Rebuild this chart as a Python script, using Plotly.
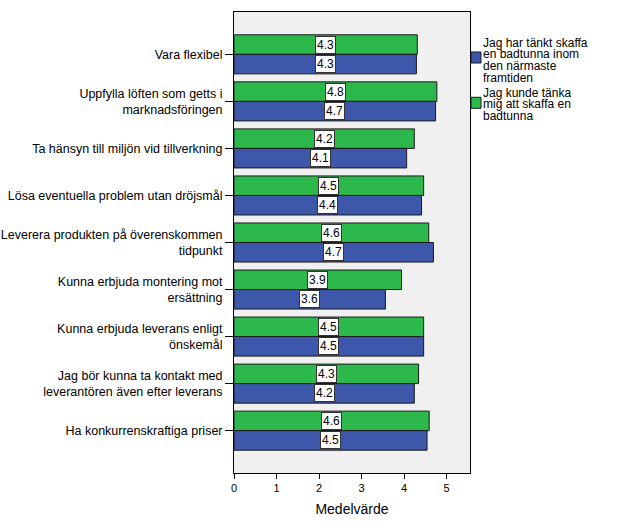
import plotly.graph_objects as go

categories = [
    "Vara flexibel",
    "Uppfylla löften som getts i<br>marknadsföringen",
    "Ta hänsyn till miljön vid tillverkning",
    "Lösa eventuella problem utan dröjsmål",
    "Leverera produkten på överenskommen<br>tidpunkt",
    "Kunna erbjuda montering mot<br>ersättning",
    "Kunna erbjuda leverans enligt<br>önskemål",
    "Jag bör kunna ta kontakt med<br>leverantören även efter leverans",
    "Ha konkurrenskraftiga priser",
]
series_blue_lines = ["Jag har tänkt skaffa", "en badtunna inom", "den närmaste", "framtiden"]
series_green_lines = ["Jag kunde tänka", "mig att skaffa en", "badtunna"]
blue_values = [4.29, 4.74, 4.06, 4.41, 4.69, 3.56, 4.46, 4.24, 4.54]
green_values = [4.31, 4.77, 4.24, 4.46, 4.58, 3.94, 4.46, 4.34, 4.59]
x_ticks = [0, 1, 2, 3, 4, 5]

BLUE = "#3D57AB"
GREEN = "#2DB84B"
FONT = "Liberation Sans, Arial, sans-serif"

W, H = 629, 528
ML, MR, MT, MB = 234, 159, 12, 55
plot_h = H - MT - MB
n = len(categories)
y_lo, y_hi = -0.9, n - 1 + 0.9
px_per_cat = plot_h / (y_hi - y_lo)
bargap = 0.17
bar_px = px_per_cat * (1 - bargap) / 2

fig = go.Figure()
fig.add_trace(go.Bar(
    y=categories, x=green_values, orientation="h", name=" ".join(series_green_lines),
    marker=dict(color=GREEN, line=dict(color="#1a1a1a", width=1)),
    showlegend=False, hoverinfo="x+y",
))
fig.add_trace(go.Bar(
    y=categories, x=blue_values, orientation="h", name=" ".join(series_blue_lines),
    marker=dict(color=BLUE, line=dict(color="#1a1a1a", width=1)),
    showlegend=False, hoverinfo="x+y",
))

annotations = []
for cat, g, b in zip(categories, green_values, blue_values):
    for v, shift in ((g, bar_px / 2), (b, -bar_px / 2)):
        annotations.append(dict(
            x=v / 2, y=cat, xref="x", yref="y", yshift=shift,
            text=f"{v:.1f}", showarrow=False,
            font=dict(family=FONT, size=12, color="black"),
            bgcolor="white", bordercolor="#333333", borderwidth=1, borderpad=1,
        ))

# manual legend (paper-pixel layout)
def px_x(px):
    return (px - ML) / (W - ML - MR)

def px_y(py):
    return 1 - (py - MT) / plot_h

LINE_STEP = 11.6
legend_items = [
    (series_blue_lines, BLUE, 42.7, 52),
    (series_green_lines, GREEN, 92.7, 97.3),
]
shapes = []
for lines, col, first_center, sw_top in legend_items:
    for i, line in enumerate(lines):
        annotations.append(dict(
            x=px_x(482), y=px_y(first_center + i * LINE_STEP), xref="paper", yref="paper",
            xanchor="left", yanchor="middle", align="left", showarrow=False,
            text=line, font=dict(family=FONT, size=12, color="black"),
            borderpad=0,
        ))
    shapes.append(dict(
        type="rect", xref="paper", yref="paper",
        x0=px_x(471), x1=px_x(481), y0=px_y(sw_top), y1=px_y(sw_top + 11),
        fillcolor=col, line=dict(color="#1a1a1a", width=1),
    ))

fig.update_layout(
    width=W, height=H,
    margin=dict(l=ML, r=MR, t=MT, b=MB, autoexpand=False),
    barmode="group", bargap=bargap, bargroupgap=0,
    plot_bgcolor="#F0F0F0", paper_bgcolor="white",
    font=dict(family=FONT, size=12, color="black"),
    annotations=annotations, shapes=shapes,
    xaxis=dict(
        range=[0, 5.55], tickvals=x_ticks, ticktext=[str(t) for t in x_ticks],
        ticks="outside", ticklen=5, tickcolor="black", showgrid=False, zeroline=False,
        showline=True, linecolor="black", mirror=True, automargin=False,
        title=dict(text="Medelvärde", font=dict(family=FONT, size=14), standoff=10),
        tickfont=dict(family=FONT, size=11),
    ),
    yaxis=dict(
        categoryorder="array", categoryarray=categories,
        range=[y_hi, y_lo], automargin=False,
        ticks="outside", ticklen=8, tickcolor="black", showgrid=False, zeroline=False,
        showline=True, linecolor="black", mirror=True,
        tickfont=dict(family=FONT, size=12.5),
    ),
)

fig.write_html("out.html")
